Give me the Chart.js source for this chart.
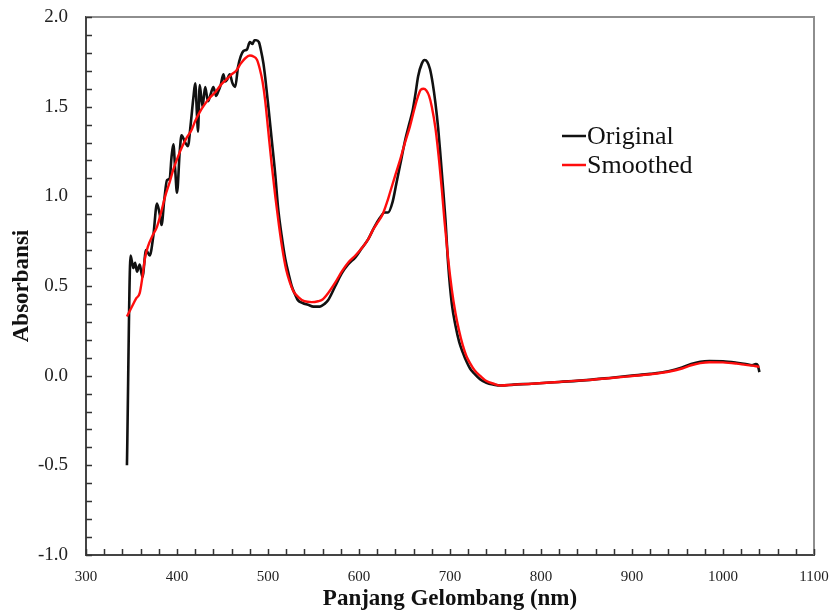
<!DOCTYPE html>
<html>
<head>
<meta charset="utf-8">
<title>Absorbansi</title>
<script src="https://cdn.jsdelivr.net/npm/chart.js@4.4.1/dist/chart.umd.min.js"></script>
<style>
  html, body { margin: 0; padding: 0; background: #fff; }
  #wrap { width: 833px; height: 615px; position: relative; }
</style>
</head>
<body>
<div id="wrap"><canvas id="spectrum"></canvas></div>
<script>
// wavelength (nm) / absorbance pairs for the raw spectrum
const origX = [345, 349, 352, 354, 356, 359, 362, 366, 370, 374, 378, 381, 383, 386, 389, 392, 394, 396, 398, 400,
  403, 405, 409, 412, 415, 418, 420, 422, 423, 425, 428, 431, 434, 437, 440, 443, 445, 448, 451, 453,
  455, 458, 461, 464, 467, 470, 473, 477, 480, 483, 485, 487, 490, 492, 495, 497, 500, 504, 508, 511,
  515, 519, 523, 526, 530, 533, 538, 544, 550, 557, 562, 566, 574, 581, 588, 596, 603, 610, 617, 623,
  628, 632, 637, 641, 645, 651, 655, 659, 662, 665, 669, 672, 675, 678, 681, 684, 687, 689, 692, 695,
  698, 702, 706, 710, 714, 718, 722, 727, 733, 740, 748, 756, 770, 790, 820, 850, 880, 900, 920, 940,
  955, 965, 975, 985, 1000, 1015, 1025, 1032, 1036, 1038, 1040];
const origY = [-0.50, 0.67, 0.60, 0.63, 0.58, 0.62, 0.55, 0.70, 0.67, 0.78, 0.96, 0.90, 0.84, 0.98, 1.09, 1.10, 1.22, 1.29, 1.15, 1.02,
  1.25, 1.34, 1.30, 1.28, 1.40, 1.55, 1.63, 1.45, 1.36, 1.62, 1.50, 1.61, 1.53, 1.57, 1.61, 1.56, 1.58, 1.62, 1.68, 1.64,
  1.65, 1.68, 1.63, 1.61, 1.72, 1.78, 1.81, 1.82, 1.86, 1.85, 1.87, 1.87, 1.86, 1.82, 1.74, 1.66, 1.52, 1.32, 1.12, 0.94,
  0.78, 0.65, 0.56, 0.50, 0.45, 0.42, 0.405, 0.395, 0.385, 0.385, 0.40, 0.42, 0.50, 0.57, 0.62, 0.66, 0.71, 0.76, 0.83, 0.88,
  0.91, 0.91, 0.97, 1.07, 1.17, 1.32, 1.40, 1.48, 1.57, 1.67, 1.74, 1.76, 1.75, 1.71, 1.63, 1.52, 1.38, 1.26, 1.07, 0.87,
  0.62, 0.40, 0.28, 0.19, 0.13, 0.08, 0.04, 0.01, -0.02, -0.04, -0.05, -0.055, -0.05, -0.045, -0.035, -0.025, -0.01, 0.0, 0.01, 0.025,
  0.045, 0.065, 0.078, 0.082, 0.08, 0.072, 0.065, 0.058, 0.065, 0.06, 0.02];

// smoothed spectrum
const smoothX = [345, 350, 355, 359, 362, 365, 368, 373, 378, 383, 387, 392, 396, 401, 406, 411, 416, 420, 425, 430,
  436, 442, 448, 454, 460, 465, 470, 475, 480, 484, 488, 491, 494, 497, 500, 504, 508, 512, 516, 520,
  524, 528, 533, 540, 548, 555, 560, 566, 574, 581, 588, 596, 603, 610, 615, 620, 626, 631, 634, 640,
  645, 650, 656, 661, 665, 668, 671, 674, 677, 680, 684, 688, 691, 694, 698, 702, 706, 710, 714, 718,
  722, 727, 733, 740, 748, 756, 770, 790, 820, 850, 880, 900, 920, 940, 955, 965, 975, 985, 1000, 1015,
  1025, 1035, 1040];
const smoothY = [0.33, 0.38, 0.43, 0.46, 0.55, 0.66, 0.72, 0.78, 0.83, 0.92, 1.00, 1.08, 1.15, 1.22, 1.28, 1.33, 1.37, 1.42, 1.47, 1.51,
  1.55, 1.58, 1.62, 1.65, 1.68, 1.70, 1.74, 1.77, 1.785, 1.78, 1.76, 1.71, 1.64, 1.53, 1.38, 1.18, 1.00, 0.84, 0.70, 0.59,
  0.52, 0.47, 0.44, 0.415, 0.41, 0.415, 0.425, 0.46, 0.52, 0.58, 0.63, 0.67, 0.71, 0.76, 0.81, 0.85, 0.90, 0.97, 1.02, 1.12,
  1.20, 1.29, 1.39, 1.49, 1.56, 1.595, 1.60, 1.59, 1.56, 1.50, 1.38, 1.20, 1.04, 0.86, 0.65, 0.48, 0.35, 0.25, 0.17, 0.11,
  0.07, 0.03, 0.0, -0.03, -0.045, -0.055, -0.05, -0.045, -0.035, -0.025, -0.012, -0.002, 0.008, 0.022, 0.04, 0.058, 0.07, 0.075, 0.074, 0.067,
  0.06, 0.054, 0.05];

const seriesNames = ['Original', 'Smoothed'];
const seriesColors = ['#111111', '#ff0d0d'];

// axis ranges and tick spacing (labelled ticks every 100 nm / 0.5)
const xRange = [300, 1100];
const xStep = 20;
const yRange = [-1.0, 2.0];
const yStep = 0.1;

const serif = '"Liberation Serif", "Times New Roman", serif';

const toPoints = (xs, ys) => xs.map((x, i) => ({ x: x, y: ys[i] }));

// inward tick marks, grey frame on top/right, and the legend inside the plot
const framePlugin = {
  id: 'frame',
  afterDraw(chart) {
    const { ctx, chartArea: a, scales: { x, y } } = chart;
    ctx.save();
    ctx.strokeStyle = '#8e8e8e';
    ctx.lineWidth = 2;
    ctx.beginPath();
    ctx.moveTo(a.left, a.top);
    ctx.lineTo(a.right, a.top);
    ctx.lineTo(a.right, a.bottom);
    ctx.stroke();

    ctx.strokeStyle = '#333';
    ctx.lineWidth = 1.5;
    ctx.beginPath();
    x.ticks.forEach(t => {
      const px = Math.round(x.getPixelForValue(t.value)) + 0.5;
      ctx.moveTo(px, a.bottom);
      ctx.lineTo(px, a.bottom - 6);
    });
    y.ticks.forEach(t => {
      const py = Math.round(y.getPixelForValue(t.value)) + 0.5;
      ctx.moveTo(a.left, py);
      ctx.lineTo(a.left + 6, py);
    });
    ctx.stroke();

    // legend
    ctx.font = '26px ' + serif;
    ctx.textBaseline = 'middle';
    ctx.fillStyle = '#111';
    const lx = a.left + 476;
    let ly = a.top + 119;
    seriesNames.forEach((name, i) => {
      ctx.strokeStyle = seriesColors[i];
      ctx.lineWidth = 2.5;
      ctx.beginPath();
      ctx.moveTo(lx, ly);
      ctx.lineTo(lx + 24, ly);
      ctx.stroke();
      ctx.fillText(name, lx + 25, ly + 1);
      ly += 29;
    });
    ctx.restore();
  }
};

new Chart(document.getElementById('spectrum'), {
  type: 'line',
  data: {
    datasets: [
      {
        label: seriesNames[1],
        data: toPoints(smoothX, smoothY),
        borderColor: seriesColors[1],
        borderWidth: 2.4,
        pointRadius: 0,
        cubicInterpolationMode: 'monotone'
      },
      {
        label: seriesNames[0],
        data: toPoints(origX, origY),
        borderColor: seriesColors[0],
        borderWidth: 2.6,
        pointRadius: 0,
        cubicInterpolationMode: 'monotone'
      }
    ]
  },
  options: {
    responsive: true,
    maintainAspectRatio: false,
    animation: false,
    layout: { padding: { top: 17, right: 19, left: 0, bottom: 0 } },
    plugins: {
      legend: { display: false },
      tooltip: { enabled: false }
    },
    scales: {
      x: {
        type: 'linear',
        min: xRange[0],
        max: xRange[1],
        afterFit(scale) {
          scale.height = 60;
          scale.paddingLeft = 0;
          scale.paddingRight = 0;
        },
        grid: { display: false, drawTicks: false },
        border: { display: true, color: '#444', width: 2 },
        ticks: {
          stepSize: xStep,
          autoSkip: false,
          maxRotation: 0,
          minRotation: 0,
          padding: 13,
          color: '#222',
          font: { family: serif, size: 15 },
          callback: v => (Math.round(v) % 100 === 0 ? String(Math.round(v)) : '')
        },
        title: {
          display: true,
          text: 'Panjang Gelombang (nm)',
          color: '#111',
          font: { family: serif, size: 23, weight: 'bold' },
          padding: { top: 0, bottom: 2 }
        }
      },
      y: {
        type: 'linear',
        min: yRange[0],
        max: yRange[1],
        afterFit(scale) {
          scale.width = 86;
          scale.paddingTop = 0;
          scale.paddingBottom = 0;
        },
        grid: { display: false, drawTicks: false },
        border: { display: true, color: '#444', width: 2 },
        ticks: {
          stepSize: yStep,
          autoSkip: false,
          padding: 18,
          color: '#222',
          font: { family: serif, size: 19 },
          callback: v => {
            const h = v * 2;
            return Math.abs(h - Math.round(h)) < 1e-6 ? (Math.round(h) / 2).toFixed(1) : '';
          }
        },
        title: {
          display: true,
          text: 'Absorbansi',
          color: '#111',
          font: { family: serif, size: 23, weight: 'bold' },
          padding: { top: 8, bottom: 0 }
        }
      }
    }
  },
  plugins: [framePlugin]
});
</script>
</body>
</html>
